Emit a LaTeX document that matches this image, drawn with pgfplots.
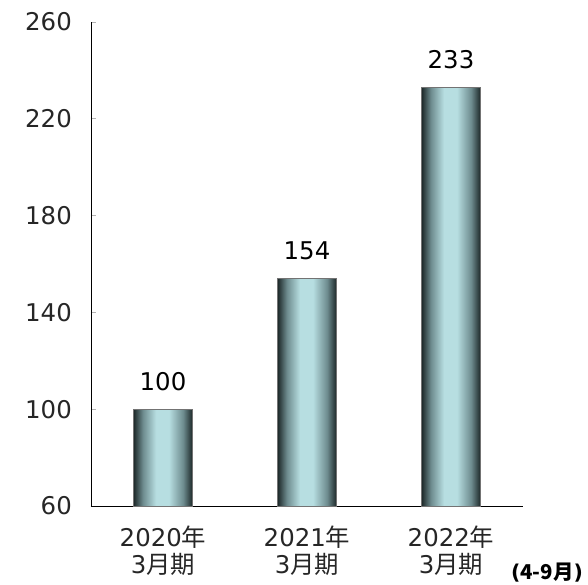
\documentclass[border=0pt]{standalone}
\usepackage{fontspec}
\setmainfont{DejaVu Sans}
\newfontfamily\cjk{Noto Sans CJK JP}
\usepackage{pgfplots}
\pgfplotsset{compat=1.18}

\definecolor{bardark}{HTML}{1C2727}
\definecolor{barmid}{HTML}{6E8C8F}
\definecolor{barlight}{HTML}{B7DEE1}
\pgfdeclarehorizontalshading{barshade}{100bp}{%
  color(0bp)=(bardark); color(25bp)=(bardark); color(33bp)=(barmid);
  color(44bp)=(barlight); color(55bp)=(barlight); color(67bp)=(barmid);
  color(75bp)=(bardark); color(100bp)=(bardark)}

\begin{document}
\begin{tikzpicture}
  \path[use as bounding box] (-91bp,-79bp) rectangle (497bp,506bp);
  \begin{axis}[
      at={(0,0)}, anchor=south west,
      scale only axis,
      width=432bp, height=484bp,
      xmin=-0.5, xmax=2.5,
      ymin=60, ymax=260,
      ytick={60,100,...,260},
      xtick={0,1,2},
      xticklabels={{2020{\cjk 年}\\3{\cjk 月期}},
                   {2021{\cjk 年}\\3{\cjk 月期}},
                   {2022{\cjk 年}\\3{\cjk 月期}}},
      extra x ticks={0.5,1.5,2.5},
      extra x tick labels={},
      extra x tick style={major tick length=5bp, tick style={gray!60, line width=0.6bp}},
      axis x line*=bottom, axis y line*=left,
      axis line style={black, line width=0.9bp},
      tick align=inside,
      x tick style={draw=none},
      y tick style={gray!60, line width=0.6bp},
      major tick length=5bp,
      /pgf/number format/assume math mode=true,
      ticklabel style={font=\fontsize{24.5}{27}\selectfont, text=black!85},
      yticklabel style={anchor=east, inner sep=0pt, xshift=-19bp},
      xticklabel style={align=center, anchor=north, inner sep=0pt, yshift=-20bp},
      nodes near coords,
      every node near coord/.append style={font=\fontsize{24.5}{27}\selectfont,
        anchor=base, inner sep=0pt, yshift=19bp, text=black},
      bar style/.style={ybar, bar width=59bp, bar shift=0pt, shading=barshade,
        draw=black!55, line width=0.8bp},
    ]
    \addplot[bar style] coordinates {(0,100)};
    \addplot[bar style] coordinates {(1,154)};
    \addplot[bar style] coordinates {(2,233)};
  \end{axis}
  \node[font=\bfseries\fontsize{20.5}{24}\selectfont, inner sep=0pt] at (456bp,-67bp)
    {({\cjk\bfseries 4-9月})};
\end{tikzpicture}
\end{document}
